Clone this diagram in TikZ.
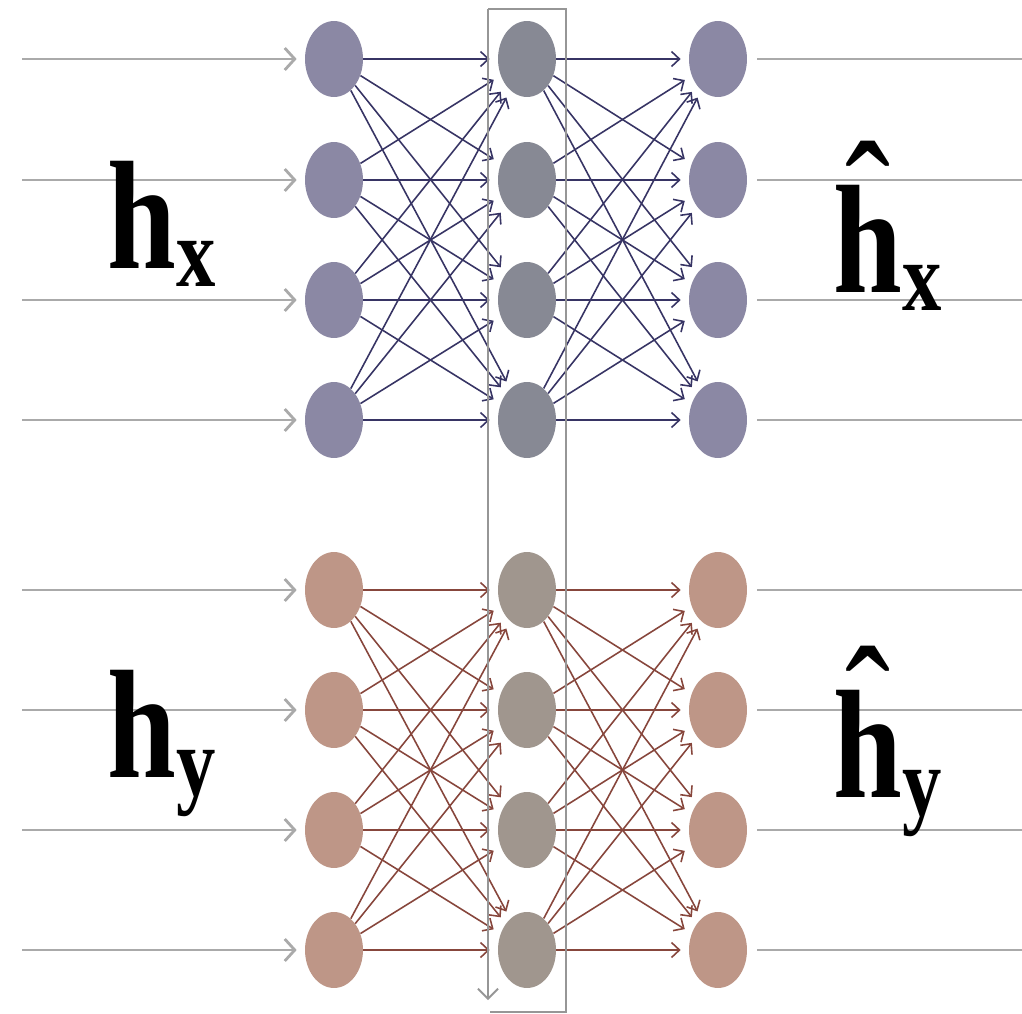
\documentclass[tikz,border=0pt]{standalone}
\usepackage{fontspec}
\setmainfont{Liberation Serif}
\usepackage{graphicx}
\usetikzlibrary{arrows.meta, shapes.geometric}

\newcommand{\bigh}{{\fontsize{88}{88}\selectfont h}}
\newcommand{\subs}[1]{\raisebox{-10.5pt}{\fontsize{56}{56}\selectfont #1}}
\newcommand{\hath}{\ooalign{\bigh\cr\hidewidth\raisebox{19pt}{\mdseries\fontsize{96}{96}\selectfont\symbol{"02C6}}\hidewidth\cr}}

\tikzset{
  unit/.style={ellipse, minimum width=1.16cm, minimum height=1.52cm, inner sep=0pt},
  feed/.style={draw=linegray, line width=1.6pt, -{Straight Barb[length=2mm, width=4.4mm]}, shorten >=0.16cm},
  link/.style={line width=0.9pt, -{Straight Barb[length=1.6mm, width=3mm]}, shorten >=0.16cm},
  tag/.style={font=\bfseries, inner sep=0pt, anchor=base west}
}

\begin{document}
\begin{tikzpicture}[x=0.02cm, y=-0.02cm]

\definecolor{xouter}{RGB}{139, 136, 164}
\definecolor{xmiddle}{RGB}{135, 137, 148}
\definecolor{xedge}{RGB}{55, 52, 100}
\definecolor{youter}{RGB}{190, 150, 135}
\definecolor{ymiddle}{RGB}{160, 150, 142}
\definecolor{yedge}{RGB}{135, 70, 60}
\definecolor{linegray}{RGB}{170, 170, 170}
\definecolor{boxgray}{RGB}{150, 150, 150}

\useasboundingbox (0,0) rectangle (1022,1014);

% upper network (h_x)
\foreach \i/\y in {1/59, 2/180, 3/300, 4/420} {
  \node[unit, fill=xouter] (xin\i) at (334,\y) {};
  \node[unit, fill=xmiddle] (xmid\i) at (527,\y) {};
  \node[unit, fill=xouter] (xout\i) at (718,\y) {};
  \coordinate (xsrc\i) at (22,\y);
  \coordinate (xend\i) at (1022,\y);
}

% lower network (h_y)
\foreach \i/\y in {1/590, 2/710, 3/830, 4/950} {
  \node[unit, fill=youter] (yin\i) at (334,\y) {};
  \node[unit, fill=ymiddle] (ymid\i) at (527,\y) {};
  \node[unit, fill=youter] (yout\i) at (718,\y) {};
  \coordinate (ysrc\i) at (22,\y);
  \coordinate (yend\i) at (1022,\y);
}

\foreach \i in {1,...,4} {
  \draw[feed] (xsrc\i) -- (xin\i);
  \draw[feed] (ysrc\i) -- (yin\i);
  \draw[linegray, line width=1.6pt, shorten <=0.2cm] (xout\i) -- (xend\i);
  \draw[linegray, line width=1.6pt, shorten <=0.2cm] (yout\i) -- (yend\i);
  \foreach \j in {1,...,4} {
    \draw[link, xedge] (xin\i) -- (xmid\j);
    \draw[link, xedge] (xmid\i) -- (xout\j);
    \draw[link, yedge] (yin\i) -- (ymid\j);
    \draw[link, yedge] (ymid\i) -- (yout\j);
  }
}

% shared middle layer
\coordinate (boxtop) at (488,9);
\coordinate (boxfoot) at (488,1000);
\draw[boxgray, line width=1.1pt] (boxtop) -- (566,9) -- (566,1012) -- (490,1012);
\draw[boxgray, line width=1.1pt, -{Straight Barb[length=2mm, width=4mm]}] (boxtop) -- (boxfoot);

\node[tag] (hx) at (107,268) {\scalebox{0.8}[1]{\bigh\subs{x}}};
\node[tag] (hy) at (107,777) {\scalebox{0.8}[1]{\bigh\subs{y}}};
\node[tag] (hxhat) at (833,292) {\scalebox{0.8}[1]{\hath\subs{x}}};
\node[tag] (hyhat) at (833,797) {\scalebox{0.8}[1]{\hath\subs{y}}};

\end{tikzpicture}
\end{document}
